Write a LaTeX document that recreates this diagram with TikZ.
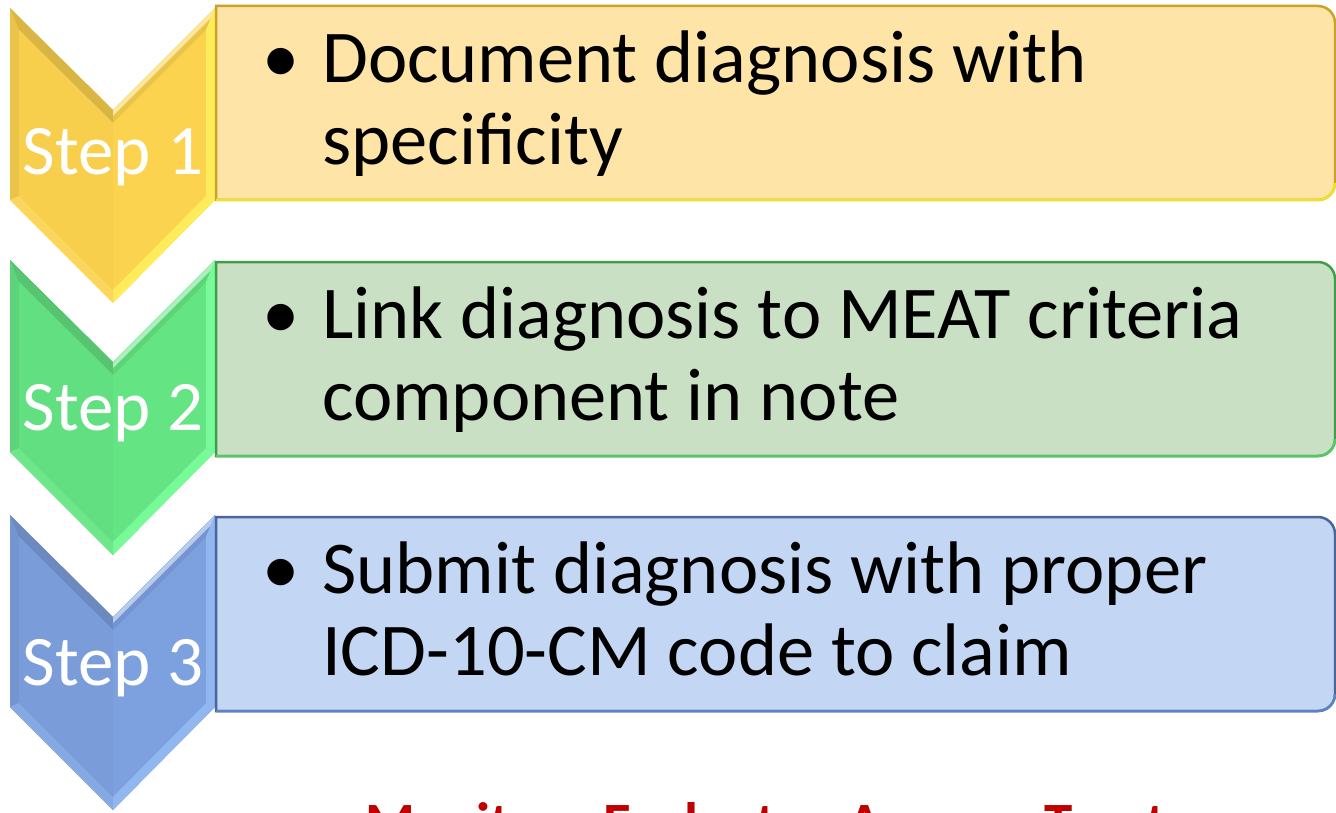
\documentclass[tikz,border=0pt]{standalone}
\usepackage{fontspec}
\setmainfont{Carlito}

% chevron colours
\definecolor{ychev}{HTML}{FCD34E}
\definecolor{gchev}{HTML}{64E482}
\definecolor{bchev}{HTML}{7DA0DE}
\definecolor{yhi}{HTML}{FFEC5A}
\definecolor{ghi}{HTML}{78FA98}
\definecolor{bhi}{HTML}{92B6F0}
% box colours
\definecolor{yfill}{HTML}{FEE4A6}
\definecolor{yline}{HTML}{C9A227}
\definecolor{ylow}{HTML}{F2E12A}
\definecolor{gfill}{HTML}{C9E0C5}
\definecolor{gline}{HTML}{3E9E4A}
\definecolor{glow}{HTML}{55C865}
\definecolor{bfill}{HTML}{C3D7F5}
\definecolor{bline}{HTML}{4A6699}
\definecolor{blow}{HTML}{5E82C4}
\definecolor{motto}{HTML}{C00000}

\tikzset{
  steplabel/.style={text=white, font=\fontsize{71}{84}\selectfont, anchor=base, inner sep=0pt},
  bodytext/.style={text=black, font=\fontsize{74.5}{82}\selectfont, anchor=base west, inner sep=0pt},
  bullettext/.style={text=black, font=\fontsize{74.5}{82}\selectfont, anchor=base west, inner sep=0pt},
  mottotext/.style={text=motto, font=\bfseries\fontsize{57}{66}\selectfont, anchor=base west, inner sep=0pt},
}

% bevelled chevron: #1 base colour, #2 highlight colour
\newcommand\chevronshape[2]{%
  \fill[#1] (10,0) -- (113,102) -- (215,0) -- (215,192) -- (113,295) -- (10,192) -- cycle;
  \fill[#1!93!black] (10,0) -- (19,22) -- (19,188) -- (10,192) -- cycle;
  \fill[#1!86!black] (10,0) -- (113,102) -- (113,115) -- (19,22) -- cycle;
  \fill[#1!93!black] (113,102) -- (215,0) -- (206,22) -- (113,115) -- cycle;
  \fill[#1!55!white] (113,102) -- (215,0) -- (211,10) -- (113,108) -- cycle;
  \fill[#2] (215,0) -- (215,192) -- (206,188) -- (206,22) -- cycle;
  \fill[#2] (215,192) -- (113,295) -- (113,282) -- (206,188) -- cycle;
  \fill[#1!92!white] (113,295) -- (10,192) -- (19,188) -- (113,282) -- cycle;
  \fill[#1!98!black] (19,22) -- (113,115) -- (113,282) -- (19,188) -- cycle;
}

% text panel with rounded right corners: #1 fill, #2 outline, #3 lower edge
\newcommand\panelshape[3]{%
  \fill[#1] (216,6) -- (1318,6) arc[start angle=-90,end angle=0,radius=17]
    -- (1335,183) arc[start angle=0,end angle=90,radius=17] -- (216,200) -- cycle;
  \draw[#2, line width=2.5pt] (216,6) -- (1318,6) arc[start angle=-90,end angle=0,radius=17]
    -- (1335,183) arc[start angle=0,end angle=90,radius=17] -- (216,200) -- cycle;
  \draw[#3, line width=2.5pt] (216,200) -- (1318,200) arc[start angle=90,end angle=0,radius=17];
}

\begin{document}
\begin{tikzpicture}[x=1pt,y=-1pt]
\useasboundingbox (0,0) rectangle (1336,813);
\clip (0,0) rectangle (1336,813);

% step 1
\begin{scope}[shift={(0,8)}]
  \chevronshape{ychev}{yhi}
\end{scope}
\begin{scope}
  \panelshape{yfill}{yline}{ylow}
\end{scope}
\node[steplabel] (s1) at (113,175) {Step 1};
\node[bullettext] (b1) at (262,83) {•};
\node[bodytext] (t1a) at (322,83) {Document diagnosis with};
\node[bodytext] (t1b) at (322,165) {specificity};

% step 2
\begin{scope}[shift={(0,260)}]
  \chevronshape{gchev}{ghi}
\end{scope}
\begin{scope}[shift={(0,256)}]
  \panelshape{gfill}{gline}{glow}
\end{scope}
\node[steplabel] (s2) at (113,430) {Step 2};
\node[bullettext] (b2) at (262,338) {•};
\node[bodytext] (t2a) at (322,338) {Link diagnosis to MEAT criteria};
\node[bodytext] (t2b) at (322,420) {component in note};

% step 3
\begin{scope}[shift={(0,515)}]
  \chevronshape{bchev}{bhi}
\end{scope}
\begin{scope}[shift={(0,511)}]
  \panelshape{bfill}{bline}{blow}
\end{scope}
\node[steplabel] (s3) at (113,685) {Step 3};
\node[bullettext] (b3) at (262,593) {•};
\node[bodytext] (t3a) at (322,593) {Submit diagnosis with proper};
\node[bodytext] (t3b) at (322,675) {ICD-10-CM code to claim};

% motto along the lower edge
\node[mottotext] (motto) at (365,842) {Monitor - Evaluate - Assess - Treat};
\end{tikzpicture}
\end{document}
